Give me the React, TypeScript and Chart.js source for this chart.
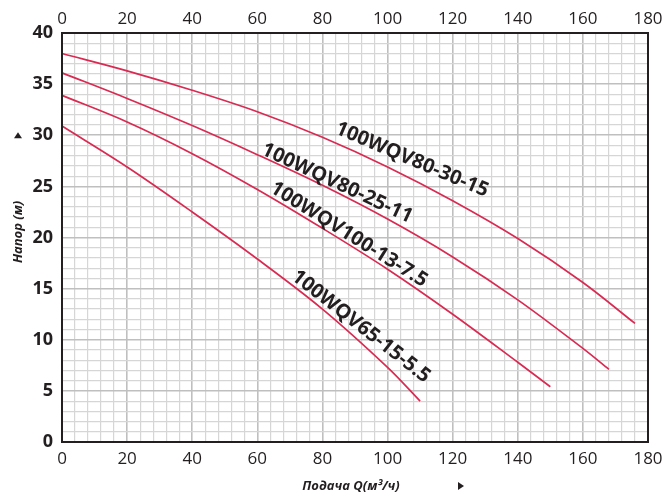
import React, { useEffect, useRef } from 'react';
import { Chart, registerables } from 'chart.js';

Chart.register(...registerables);

// Flow Q (m³/h) and head H (m) for each pump curve
const flowA = [0, 20, 40, 60, 80, 100, 120, 140, 160, 176];
const headA = [38.0, 36.3, 34.4, 32.3, 29.8, 26.9, 23.6, 19.9, 15.6, 11.6];

const flowB = [0, 20, 40, 60, 80, 100, 120, 140, 160, 168];
const headB = [36.1, 33.6, 30.95, 28.1, 25.1, 21.8, 18.1, 13.9, 9.15, 7.1];

const flowC = [0, 20, 40, 60, 80, 100, 120, 140, 150];
const headC = [33.9, 31.3, 28.2, 24.7, 20.9, 16.9, 12.5, 7.8, 5.4];

const flowD = [0, 20, 40, 60, 80, 100, 110];
const headD = [30.9, 26.9, 22.5, 17.9, 13.0, 7.3, 4.0];

const seriesNames = ['100WQV80-30-15', '100WQV80-25-11', '100WQV100-13-7.5', '100WQV65-15-5.5'];

const xMin = 0;
const xMax = 180;
const xStep = 4;
const xLabelEvery = 20;
const yMin = 0;
const yMax = 40;
const yStep = 1;
const yLabelEvery = 5;

const yTitle = 'Напор (м)';
const xTitle = 'Подача Q(м³/ч)';

const TEXT = '#231f20';
const RED = '#d92a52';
const FONT = '"Open Sans", "DejaVu Sans", sans-serif';

// label anchors in data space + rotation (degrees)
const labelQ = [107.5, 84.5, 88.1, 91.8];
const labelH = [27.6, 25.3, 20.3, 11.3];
const labelAngle = [23, 25, 32, 38];

function toPts(xs: number[], ys: number[]) {
  return xs.map((x, i) => ({ x, y: ys[i] }));
}

const decorPlugin = {
  id: 'decor',
  afterDraw(chart: any) {
    const { ctx, chartArea } = chart;
    const xs = chart.scales.x;
    const ys = chart.scales.y;
    ctx.save();
    // frame
    ctx.strokeStyle = TEXT;
    ctx.lineWidth = 2;
    ctx.strokeRect(chartArea.left, chartArea.top, chartArea.right - chartArea.left, chartArea.bottom - chartArea.top);

    // curve labels
    ctx.fillStyle = TEXT;
    ctx.font = `bold 20px ${FONT}`;
    ctx.textAlign = 'center';
    ctx.textBaseline = 'middle';
    seriesNames.forEach((name, i) => {
      const px = xs.getPixelForValue(labelQ[i]);
      const py = ys.getPixelForValue(labelH[i]);
      ctx.save();
      ctx.translate(px, py);
      ctx.rotate((labelAngle[i] * Math.PI) / 180);
      ctx.fillText(name, 0, 0);
      ctx.restore();
    });

    // y title
    ctx.font = `italic bold 13px ${FONT}`;
    ctx.save();
    ctx.translate(18, 232);
    ctx.rotate(-Math.PI / 2);
    ctx.fillText(yTitle, 0, 0);
    ctx.restore();

    // up arrow next to 30
    const ay = ys.getPixelForValue(30);
    ctx.beginPath();
    ctx.moveTo(14, ay + 3);
    ctx.lineTo(22, ay + 3);
    ctx.lineTo(18, ay - 3);
    ctx.closePath();
    ctx.fill();

    // x title
    ctx.font = `italic bold 13px ${FONT}`;
    ctx.fillText(xTitle, 351, 486);

    // right arrow
    ctx.beginPath();
    ctx.moveTo(458, 482);
    ctx.lineTo(458, 490);
    ctx.lineTo(464, 486);
    ctx.closePath();
    ctx.fill();
    ctx.restore();
  },
};

export default function App() {
  const ref = useRef<HTMLCanvasElement | null>(null);

  useEffect(() => {
    document.body.style.margin = '0';
    const canvas = ref.current;
    if (!canvas) return;
    const mk = (xs: number[], ys: number[]) => ({
      data: toPts(xs, ys),
      borderColor: RED,
      borderWidth: 1.7,
      pointRadius: 0,
      fill: false,
      tension: 0.35,
      clip: false as any,
    });
    const gridColor = (ctx: any, every: number) =>
      ctx.tick && Math.round(ctx.tick.value) % every === 0 ? '#bfbfbf' : '#d6d6d6';
    const gridWidth = (ctx: any, every: number) =>
      ctx.tick && Math.round(ctx.tick.value) % every === 0 ? 1.6 : 1.2;
    const noPad = (s: any) => {
      s.paddingLeft = 0;
      s.paddingRight = 0;
      s.paddingTop = 0;
      s.paddingBottom = 0;
    };

    const chart = new Chart(canvas, {
      type: 'line',
      data: {
        datasets: [
          { label: seriesNames[0], ...mk(flowA, headA) },
          { label: seriesNames[1], ...mk(flowB, headB) },
          { label: seriesNames[2], ...mk(flowC, headC) },
          { label: seriesNames[3], ...mk(flowD, headD) },
        ],
      },
      options: {
        responsive: false,
        animation: false,
        devicePixelRatio: 1,
        layout: { padding: { right: 15, left: 0, top: 0, bottom: 0 } },
        plugins: { legend: { display: false }, tooltip: { enabled: false } },
        scales: {
          x: {
            type: 'linear',
            position: 'bottom',
            min: xMin,
            max: xMax,
            afterFit: (s: any) => { s.height = 51; noPad(s); },
            ticks: {
              stepSize: xStep,
              autoSkip: false,
              maxRotation: 0,
              padding: 7,
              color: TEXT,
              font: { family: FONT, size: 17 },
              callback: (v: any) => (Math.round(v) % xLabelEvery === 0 ? String(v) : ''),
            },
            grid: {
              drawTicks: false,
              color: (c: any) => gridColor(c, xLabelEvery),
              lineWidth: (c: any) => gridWidth(c, xLabelEvery),
            },
            border: { display: false },
          },
          x2: {
            type: 'linear',
            position: 'top',
            min: xMin,
            max: xMax,
            afterFit: (s: any) => { s.height = 33; noPad(s); },
            ticks: {
              stepSize: xStep,
              autoSkip: false,
              maxRotation: 0,
              padding: 4,
              color: TEXT,
              font: { family: FONT, size: 17 },
              callback: (v: any) => (Math.round(v) % xLabelEvery === 0 ? String(v) : ''),
            },
            grid: { display: false, drawTicks: false },
            border: { display: false },
          },
          y: {
            type: 'linear',
            position: 'left',
            min: yMin,
            max: yMax,
            afterFit: (s: any) => { s.width = 62; noPad(s); },
            ticks: {
              stepSize: yStep,
              autoSkip: false,
              padding: 9,
              color: TEXT,
              font: { family: FONT, size: 18, weight: 'bold' },
              callback: (v: any) => (Math.round(v) % yLabelEvery === 0 ? String(v) : ''),
            },
            grid: {
              drawTicks: false,
              color: (c: any) => gridColor(c, yLabelEvery),
              lineWidth: (c: any) => gridWidth(c, yLabelEvery),
            },
            border: { display: false },
          },
        },
      },
      plugins: [decorPlugin],
    } as any);
    return () => chart.destroy();
  }, []);

  return (
    <div style={{ position: 'absolute', left: 0, top: 0, width: 663, height: 493, background: '#fff' }}>
      <canvas ref={ref} width={663} height={493} />
    </div>
  );
}
